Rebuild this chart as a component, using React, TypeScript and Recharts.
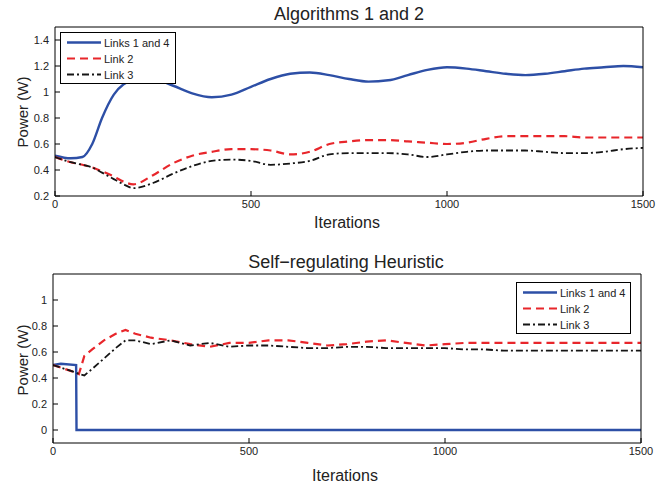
import React from "react";
import { LineChart, Line, XAxis, YAxis } from "recharts";

// Algorithms 1 and 2 (top panel)
const algIters = [0, 40, 70, 95, 120, 150, 175, 200, 250, 300, 350, 400, 450, 500, 550, 600, 650, 700, 750, 800, 850, 900, 950, 1000, 1050, 1100, 1150, 1200, 1250, 1300, 1350, 1400, 1450, 1500];
const algLinks14 = [0.51, 0.49, 0.5, 0.6, 0.8, 0.98, 1.06, 1.09, 1.1, 1.05, 0.99, 0.96, 0.98, 1.04, 1.1, 1.14, 1.15, 1.13, 1.1, 1.08, 1.09, 1.13, 1.17, 1.19, 1.18, 1.16, 1.14, 1.13, 1.14, 1.16, 1.18, 1.19, 1.2, 1.19];
const algLink2 = [0.5, 0.46, 0.44, 0.42, 0.39, 0.35, 0.31, 0.29, 0.36, 0.45, 0.51, 0.54, 0.56, 0.56, 0.55, 0.52, 0.54, 0.6, 0.62, 0.63, 0.63, 0.62, 0.61, 0.6, 0.61, 0.64, 0.66, 0.66, 0.66, 0.66, 0.65, 0.65, 0.65, 0.65];
const algLink3 = [0.5, 0.46, 0.44, 0.42, 0.38, 0.33, 0.29, 0.26, 0.3, 0.37, 0.43, 0.47, 0.48, 0.47, 0.44, 0.45, 0.47, 0.52, 0.53, 0.53, 0.53, 0.52, 0.5, 0.52, 0.54, 0.55, 0.55, 0.55, 0.54, 0.53, 0.53, 0.54, 0.56, 0.57];

// Self-regulating heuristic (bottom panel)
const heurLinks14Iters = [0, 20, 59, 60, 1500];
const heurLinks14 = [0.5, 0.51, 0.5, 0, 0];
const heurIters = [0, 30, 60, 66, 80, 100, 130, 160, 185, 210, 250, 300, 350, 400, 450, 500, 550, 600, 650, 700, 750, 800, 850, 900, 950, 1000, 1050, 1100, 1150, 1200, 1250, 1300, 1350, 1400, 1450, 1500];
const heurLink2 = [0.5, 0.47, 0.44, 0.43, 0.57, 0.62, 0.69, 0.74, 0.77, 0.74, 0.71, 0.69, 0.66, 0.64, 0.67, 0.67, 0.69, 0.69, 0.67, 0.65, 0.66, 0.68, 0.69, 0.67, 0.65, 0.66, 0.67, 0.67, 0.67, 0.67, 0.67, 0.67, 0.67, 0.67, 0.67, 0.67];
const heurLink3 = [0.5, 0.47, 0.44, 0.43, 0.42, 0.47, 0.55, 0.63, 0.69, 0.69, 0.66, 0.69, 0.65, 0.67, 0.64, 0.65, 0.65, 0.64, 0.63, 0.63, 0.64, 0.64, 0.63, 0.63, 0.63, 0.63, 0.62, 0.62, 0.61, 0.61, 0.61, 0.61, 0.61, 0.61, 0.61, 0.61];

const xTicks = [0, 500, 1000, 1500];
const algYTicks = [0.2, 0.4, 0.6, 0.8, 1, 1.2, 1.4];
const heurYTicks = [0, 0.2, 0.4, 0.6, 0.8, 1];
const seriesNames = ["Links 1 and 4", "Link 2", "Link 3"];

const FONT = '"Liberation Sans", Arial, Helvetica, sans-serif';
const BLUE = "#2d4fa6";
const RED = "#e8262b";
const BLACK = "#151515";
const tickStyle = { fill: "#222", fontSize: 11, fontFamily: FONT };

const toPoints = (xs: number[], ys: number[]) => xs.map((x, i) => ({ x, y: ys[i] }));

const styles = [
  { stroke: BLUE, dash: undefined, width: 2.4 },
  { stroke: RED, dash: "8 5", width: 2.2 },
  { stroke: BLACK, dash: "7 3 2 3", width: 1.8 },
];

function LegendBox({ left, top, width }: { left: number; top: number; width: number }) {
  const rows = [10.5, 26.5, 42.5];
  return (
    <svg style={{ position: "absolute", left, top }} width={width} height={52}>
      <rect x={0.5} y={0.5} width={width - 1} height={51} fill="#fff" stroke="#000" strokeWidth={1} />
      {seriesNames.map((name, i) => (
        <g key={name}>
          <line x1={7} x2={41} y1={rows[i]} y2={rows[i]} stroke={styles[i].stroke} strokeWidth={styles[i].width} strokeDasharray={styles[i].dash} />
          <text x={44} y={rows[i] + 4} fontSize={11} fontFamily={FONT} fill="#222">{name}</text>
        </g>
      ))}
    </svg>
  );
}

const centered = (top: number, cx: number, size: number): React.CSSProperties => ({
  position: "absolute",
  top,
  left: cx,
  transform: "translateX(-50%)",
  whiteSpace: "nowrap",
  fontFamily: FONT,
  fontSize: size,
  lineHeight: `${size}px`,
  color: "#222",
});

const yLabel = (top: number): React.CSSProperties => ({
  position: "absolute",
  left: 22,
  top,
  transform: "translate(-50%, -50%) rotate(-90deg)",
  whiteSpace: "nowrap",
  fontFamily: FONT,
  fontSize: 15,
  color: "#222",
});

export default function App() {
  const algSeries = [toPoints(algIters, algLinks14), toPoints(algIters, algLink2), toPoints(algIters, algLink3)];
  const heurSeries = [toPoints(heurLinks14Iters, heurLinks14), toPoints(heurIters, heurLink2), toPoints(heurIters, heurLink3)];

  return (
    <div style={{ position: "absolute", left: 0, top: 0, width: 671, height: 489, background: "#fff" }}>
      <div style={centered(5, 349, 18)}>Algorithms 1 and 2</div>
      <div style={{ position: "absolute", left: 0, top: 0 }}>
        <LineChart width={671} height={240} margin={{ top: 22, right: 20, bottom: 14, left: 0 }}>
          <XAxis xAxisId="b" dataKey="x" type="number" domain={[0, 1500]} ticks={xTicks} interval={0} stroke="#000" tickSize={-5} tickMargin={9} tick={tickStyle} height={30} allowDataOverflow />
          <XAxis xAxisId="t" orientation="top" dataKey="x" type="number" domain={[0, 1500]} ticks={xTicks} interval={0} stroke="#000" tickSize={-5} tick={false} height={5} allowDataOverflow />
          <YAxis yAxisId="l" type="number" domain={[0.2, 1.5]} ticks={algYTicks} interval={0} stroke="#000" tickSize={-5} tickMargin={11} tick={tickStyle} width={55} allowDataOverflow />
          <YAxis yAxisId="r" orientation="right" type="number" domain={[0.2, 1.5]} ticks={algYTicks} interval={0} stroke="#000" tickSize={-5} tick={false} width={8} allowDataOverflow />
          {algSeries.map((pts, i) => (
            <Line key={seriesNames[i]} xAxisId="b" yAxisId="l" data={pts} dataKey="y" name={seriesNames[i]} type="monotone" dot={false} stroke={styles[i].stroke} strokeWidth={styles[i].width} strokeDasharray={styles[i].dash} isAnimationActive={false} />
          ))}
        </LineChart>
      </div>
      <div style={centered(215, 347, 16)}>Iterations</div>
      <div style={yLabel(112)}>Power (W)</div>
      <LegendBox left={60} top={32} width={116} />

      <div style={centered(253, 346, 18)}>Self−regulating Heuristic</div>
      <div style={{ position: "absolute", left: 0, top: 240 }}>
        <LineChart width={671} height={249} margin={{ top: 29, right: 22, bottom: 16, left: 0 }}>
          <XAxis xAxisId="b" dataKey="x" type="number" domain={[0, 1500]} ticks={xTicks} interval={0} stroke="#000" tickSize={-5} tickMargin={9} tick={tickStyle} height={30} allowDataOverflow />
          <XAxis xAxisId="t" orientation="top" dataKey="x" type="number" domain={[0, 1500]} ticks={xTicks} interval={0} stroke="#000" tickSize={-5} tick={false} height={5} allowDataOverflow />
          <YAxis yAxisId="l" type="number" domain={[-0.1, 1.2]} ticks={heurYTicks} interval={0} stroke="#000" tickSize={-5} tickMargin={11} tick={tickStyle} width={53} allowDataOverflow />
          <YAxis yAxisId="r" orientation="right" type="number" domain={[-0.1, 1.2]} ticks={heurYTicks} interval={0} stroke="#000" tickSize={-5} tick={false} width={8} allowDataOverflow />
          {heurSeries.map((pts, i) => (
            <Line key={seriesNames[i]} xAxisId="b" yAxisId="l" data={pts} dataKey="y" name={seriesNames[i]} type="linear" dot={false} stroke={styles[i].stroke} strokeWidth={styles[i].width} strokeDasharray={styles[i].dash} isAnimationActive={false} />
          ))}
        </LineChart>
      </div>
      <div style={centered(468, 345, 16)}>Iterations</div>
      <div style={yLabel(360)}>Power (W)</div>
      <LegendBox left={516} top={282} width={115} />
    </div>
  );
}
